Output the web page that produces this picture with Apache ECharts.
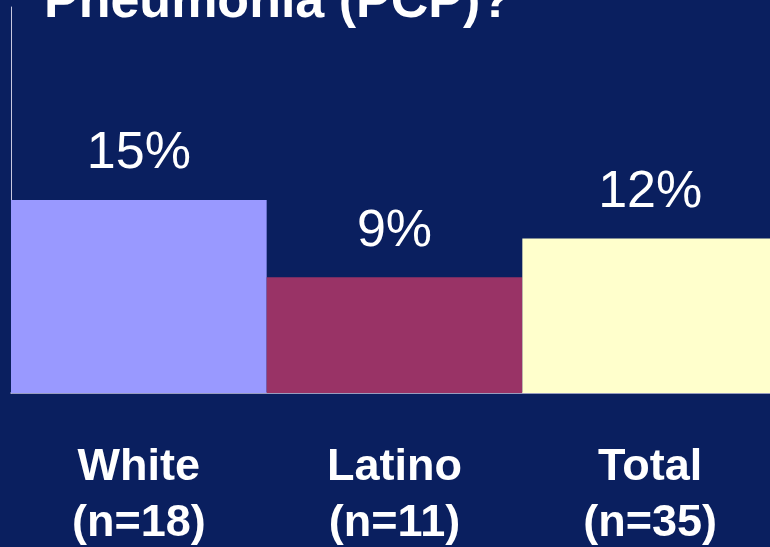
<!DOCTYPE html>
<html>
<head>
<meta charset="utf-8">
<script src="https://cdn.jsdelivr.net/npm/echarts@6/dist/echarts.min.js"></script>
<style>
    html, body { margin: 0; padding: 0; background: #0a1f5f; }
    #chart { width: 770px; height: 547px; }
</style>
</head>
<body>
<div id="chart"></div>
<script>
    // data
    var groups = ['White', 'Latino', 'Total'];
    var sizes = ['n=18', 'n=11', 'n=35'];
    var percents = [15, 9, 12];
    var barColors = ['#9999ff', '#993366', '#ffffcc'];

    var chart = echarts.init(document.getElementById('chart'));
    var option = {
        backgroundColor: '#0a1f5f',
        animation: false,
        title: {
            text: 'Pneumonia (PCP)?',
            left: 39,
            top: -28,
            textStyle: {
                color: '#ffffff',
                fontSize: 52,
                lineHeight: 52,
                fontWeight: 'bold',
                fontFamily: 'Liberation Sans, Arial, sans-serif'
            }
        },
        grid: {
            left: 11,
            top: 7,
            width: 767,
            height: 386,
            outerBoundsMode: 'none',
            containLabel: false
        },
        xAxis: {
            type: 'category',
            data: groups.map(function (g, i) { return g + '\n(' + sizes[i] + ')'; }),
            axisLine: { show: true, lineStyle: { color: '#c8c8e0', width: 1.5 } },
            axisTick: { show: false },
            axisLabel: {
                interval: 0,
                margin: 47,
                color: '#ffffff',
                fontSize: 45,
                lineHeight: 56,
                fontWeight: 'bold',
                fontFamily: 'Liberation Sans, Arial, sans-serif'
            }
        },
        yAxis: {
            type: 'value',
            min: 0,
            max: 30,
            axisLine: { show: true, lineStyle: { color: '#c8c8e0', width: 1 } },
            axisTick: { show: false },
            axisLabel: { show: false },
            splitLine: { show: false }
        },
        series: [{
            type: 'bar',
            barCategoryGap: '0%',
            data: percents.map(function (v, i) {
                return { value: v, itemStyle: { color: barColors[i] } };
            }),
            label: {
                show: true,
                position: 'top',
                distance: 20,
                formatter: '{c}%',
                color: '#ffffff',
                fontSize: 52,
                lineHeight: 52,
                fontFamily: 'Liberation Sans, Arial, sans-serif'
            }
        }]
    };
    chart.setOption(option);
</script>
</body>
</html>
